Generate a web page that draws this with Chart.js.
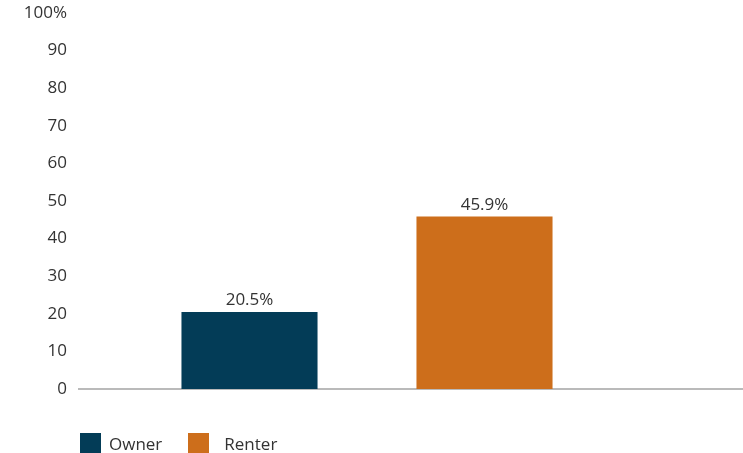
<!DOCTYPE html>
<html>
<head>
<meta charset="utf-8">
<script src="https://cdn.jsdelivr.net/npm/chart.js@4/dist/chart.umd.min.js"></script>
<style>
  html, body { margin: 0; padding: 0; background: #fff; }
  #wrap { position: relative; width: 743px; height: 453px; }
  #legend {
    position: absolute; left: 80px; top: 433px; height: 20px;
    display: flex; align-items: center;
    font-family: "Open Sans", sans-serif; font-size: 17px; color: #333;
  }
  .legItem { display: flex; align-items: center; margin-right: 26px; }
  .legBox { width: 21px; height: 20px; }
</style>
</head>
<body>
<div id="wrap">
  <canvas id="chart" width="743" height="453"></canvas>
  <div id="legend"></div>
</div>
<script>
const categories = ["Owner", "Renter"];
const shares = [20.5, 45.9];
const yTicks = [0, 10, 20, 30, 40, 50, 60, 70, 80, 90, 100];

const barColors = ["#033c57", "#cd6e1b"];
const legendGaps = [8, 15]; // box-to-text gap per legend entry
const FONT = "Open Sans";
const FONT_SIZE = 17;

// baseline spans wider than the plot area, so draw it by hand
const baselinePlugin = {
  id: "baseline",
  beforeDatasetsDraw(chart) {
    const { ctx } = chart;
    const y = chart.scales.y.getPixelForValue(0);
    ctx.save();
    ctx.strokeStyle = "#a3a3a3";
    ctx.lineWidth = 1.5;
    ctx.beginPath();
    ctx.moveTo(78, y);
    ctx.lineTo(chart.width, y);
    ctx.stroke();
    ctx.restore();
  },
};

// value labels above bars
const valueLabels = {
  id: "valueLabels",
  afterDatasetsDraw(chart) {
    const { ctx } = chart;
    ctx.save();
    ctx.font = `${FONT_SIZE}px "${FONT}"`;
    ctx.fillStyle = "#333";
    ctx.textAlign = "center";
    ctx.textBaseline = "bottom";
    chart.data.datasets.forEach((ds, i) => {
      const meta = chart.getDatasetMeta(i);
      meta.data.forEach((bar, j) => {
        const v = ds.data[j];
        if (v == null) return;
        ctx.fillText(`${v.toFixed(1)}%`, bar.x, bar.y - 3);
      });
    });
    ctx.restore();
  },
};

function buildDatasets() {
  return categories.map((name, i) => ({
    label: name,
    data: categories.map((_, j) => (j === i ? shares[i] : null)),
    backgroundColor: barColors[i],
    borderWidth: 0,
  }));
}

let chart = null;

document.addEventListener("DOMContentLoaded", () => {
  const el = document.getElementById("chart");

  chart = new Chart(el, {
    type: "bar",
    data: { labels: categories, datasets: buildDatasets() },
    options: {
      responsive: false,
      animation: false,
      skipNull: true,
      categoryPercentage: 1,
      barPercentage: 0.579,
      layout: { padding: { left: 22, right: 141, top: 13, bottom: 64 } },
      plugins: { legend: { display: false }, tooltip: { enabled: false } },
      scales: {
        x: { display: false },
        y: {
          min: 0,
          max: 100,
          afterBuildTicks: (scale) => {
            scale.ticks = yTicks.map((v) => ({ value: v }));
          },
          // fixed axis width, and no extra top/bottom room from the big tick padding
          afterFit: (scale) => {
            scale.width = 110;
            scale.paddingTop = 0;
            scale.paddingBottom = 0;
          },
          grid: { display: false, drawTicks: false },
          border: { display: false },
          ticks: {
            padding: 65,
            color: "#333",
            font: { family: FONT, size: FONT_SIZE },
            callback: (v) => (v === 100 ? "100%" : v),
          },
        },
      },
    },
    plugins: [baselinePlugin, valueLabels],
  });

  // html legend from the datasets
  const leg = document.getElementById("legend");
  leg.innerHTML = chart.data.datasets
    .map(
      (d, i) => `
      <div class="legItem">
        <div class="legBox" style="background:${d.backgroundColor};margin-right:${legendGaps[i]}px"></div>
        <span>${d.label}</span>
      </div>`
    )
    .join("");
});
</script>
</body>
</html>
